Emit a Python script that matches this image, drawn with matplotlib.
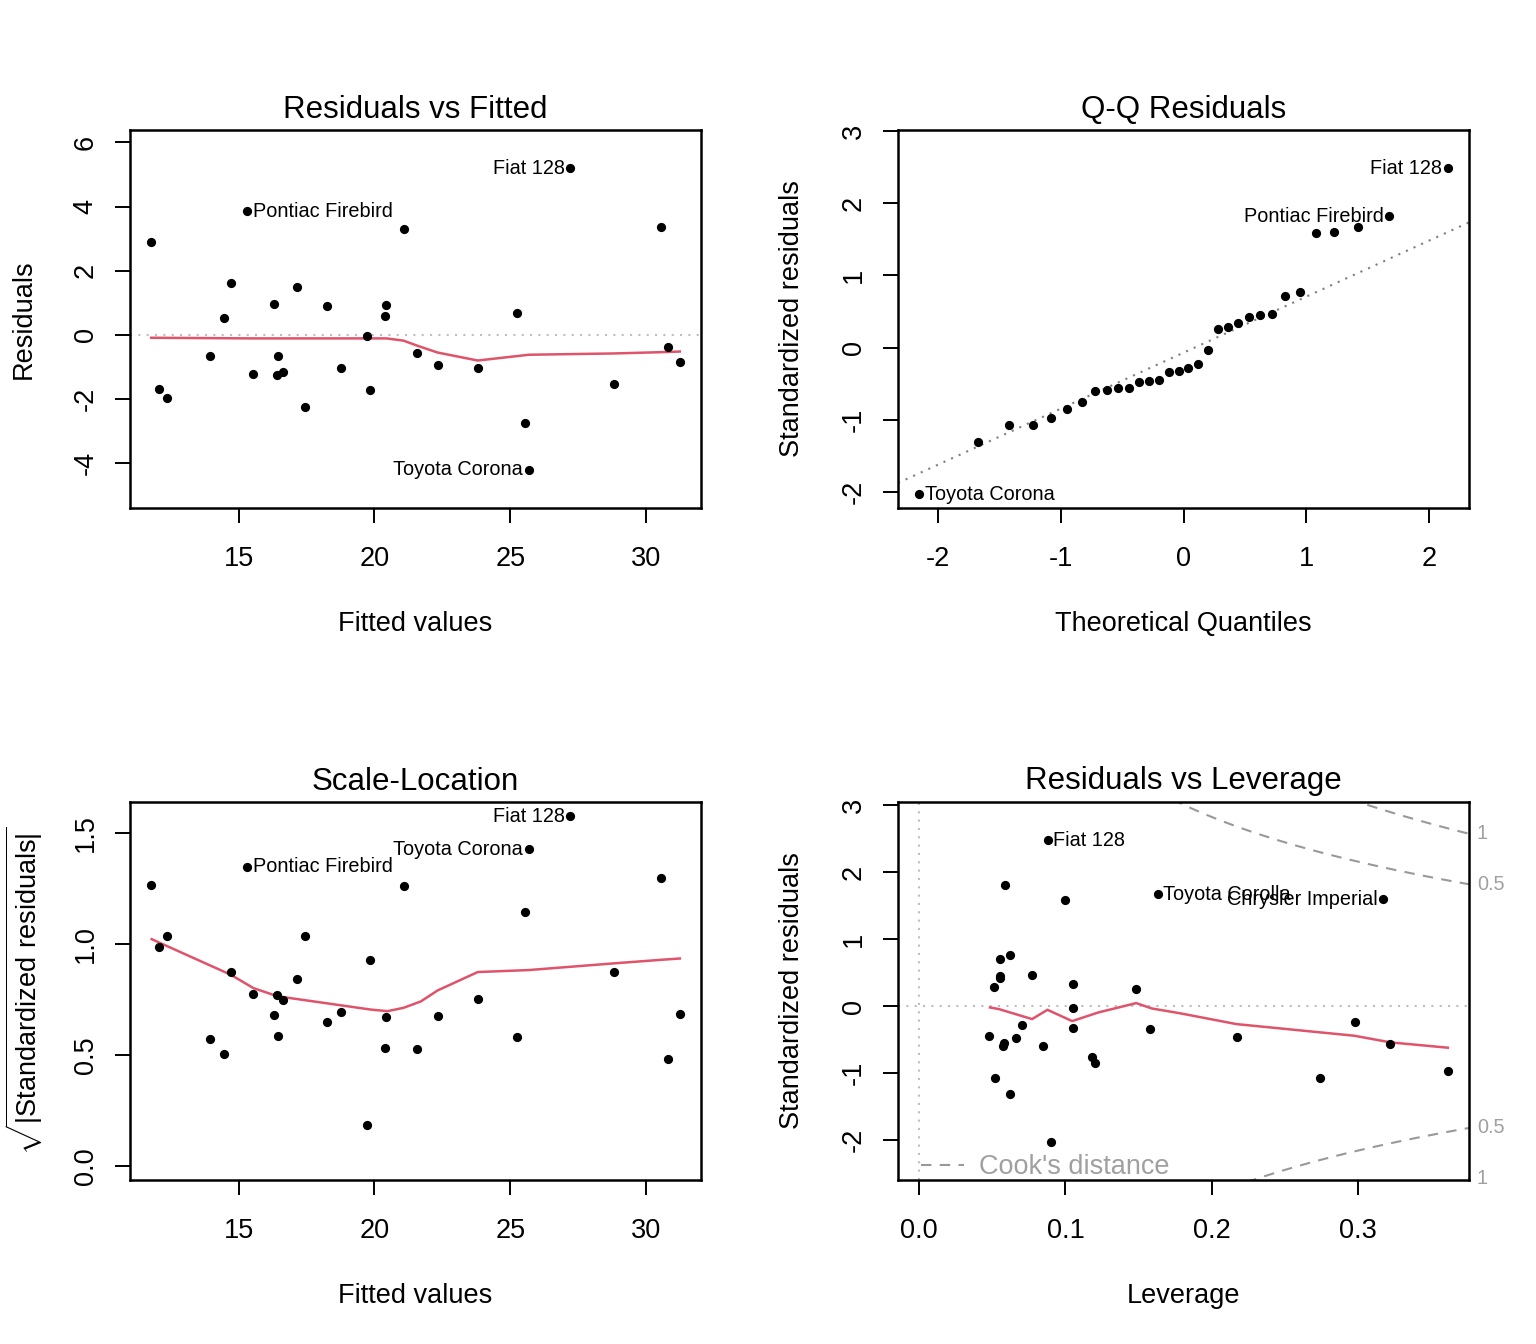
import numpy as np
import matplotlib
matplotlib.use("Agg")
import matplotlib.pyplot as plt
from matplotlib.transforms import blended_transform_factory

plt.rcParams["font.family"] = ["Liberation Sans", "DejaVu Sans"]
plt.rcParams["mathtext.fontset"] = "custom"
plt.rcParams["mathtext.rm"] = "Liberation Sans"
plt.rcParams["axes.unicode_minus"] = False

# one entry per car
fitted = [11.78, 15.32, 21.07, 14.73, 17.16, 16.32, 18.27, 20.44, 20.37, 14.47, 19.74,
          13.96, 16.46, 21.55, 18.77, 15.54, 16.41, 16.65, 12.08, 12.37, 19.82, 17.46,
          27.20, 30.54, 25.26, 22.32, 23.80, 30.80, 31.24, 28.80, 25.53, 25.68]
resid = [2.90, 3.86, 3.30, 1.62, 1.50, 0.97, 0.91, 0.94, 0.60, 0.54, -0.05,
         -0.67, -0.67, -0.58, -1.02, -1.23, -1.24, -1.17, -1.70, -1.98, -1.73, -2.26,
         5.20, 3.36, 0.69, -0.95, -1.02, -0.39, -0.86, -1.54, -2.75, -4.21]
std_resid = [1.595, 1.817, 1.593, 0.765, 0.709, 0.464, 0.422, 0.448, 0.281, 0.253, -0.034,
             -0.325, -0.342, -0.277, -0.482, -0.601, -0.593, -0.559, -0.976, -1.076, -0.857, -1.071,
             2.482, 1.676, 0.337, -0.453, -0.564, -0.233, -0.466, -0.760, -1.311, -2.030]
leverage = [0.317, 0.059, 0.100, 0.062, 0.055, 0.077, 0.055, 0.055, 0.051, 0.148, 0.105,
            0.105, 0.158, 0.070, 0.066, 0.085, 0.057, 0.058, 0.3614, 0.274, 0.120, 0.052,
            0.088, 0.163, 0.105, 0.048, 0.322, 0.298, 0.217, 0.118, 0.062, 0.090]

# labelled points (index -> car name)
id_resid = {22: "Fiat 128", 31: "Toyota Corona", 1: "Pontiac Firebird"}
id_cook = {22: "Fiat 128", 23: "Toyota Corolla", 0: "Chrysler Imperial"}

theo_half = [2.154, 1.676, 1.418, 1.230, 1.078, 0.947, 0.831, 0.725,
             0.626, 0.533, 0.445, 0.360, 0.278, 0.197, 0.118, 0.039]
theo_q = [-v for v in theo_half] + theo_half[::-1]
q75 = 0.6745

# lowess smoother lines (red)
sm1_x = [11.78, 15.5, 18.0, 20.44, 21.07, 21.55, 22.32, 23.80, 25.68, 27.20, 28.80, 30.54, 31.24]
sm1_y = [-0.09, -0.11, -0.11, -0.11, -0.18, -0.33, -0.55, -0.80, -0.62, -0.60, -0.58, -0.54, -0.52]
sm3_x = [11.80, 14.71, 15.54, 16.43, 17.29, 19.87, 20.48, 21.07, 21.71, 22.32, 23.80, 25.68, 28.80, 30.54, 31.24]
sm3_y = [1.021, 0.861, 0.801, 0.764, 0.749, 0.704, 0.697, 0.712, 0.741, 0.79, 0.873, 0.882, 0.912, 0.928, 0.934]
sm4_x = [0.0484, 0.0546, 0.0772, 0.0877, 0.1046, 0.1226, 0.1484, 0.1590, 0.1788, 0.2169, 0.2975, 0.3221, 0.3614]
sm4_y = [-0.02, -0.045, -0.194, -0.055, -0.224, -0.094, 0.045, -0.035, -0.109, -0.269, -0.443, -0.542, -0.622]

n_params = 4
cook_levels = [0.5, 1]

RED = "#DF536B"
TICK_FS = 19.5
LAB_FS = 19.5
TITLE_FS = 22.5
ID_FS = 14.3

fitted = np.array(fitted)
resid = np.array(resid)
std_resid = np.array(std_resid)
leverage = np.array(leverage)


def ext(lo, hi, f):
    d = (hi - lo) * f
    return lo - d, hi + d


def style(ax, title, xlabel, ylabel, xticks, yticks, xtl=None, ytl=None, ypad=26):
    for s in ax.spines.values():
        s.set_linewidth(1.8)
    ax.set_title(title, fontsize=TITLE_FS, pad=9)
    ax.set_xlabel(xlabel, fontsize=LAB_FS, labelpad=28)
    ax.set_ylabel(ylabel, fontsize=LAB_FS, labelpad=ypad)
    ax.set_xticks(xticks)
    ax.set_yticks(yticks)
    if xtl is not None:
        ax.set_xticklabels(xtl)
    if ytl is not None:
        ax.set_yticklabels(ytl)
    ax.tick_params(length=10.5, width=1.4, labelsize=TICK_FS)
    ax.tick_params(axis="x", pad=17)
    ax.tick_params(axis="y", pad=12)
    for t in ax.get_yticklabels():
        t.set_rotation(90)
        t.set_va("center")


def label_points(ax, xs, ys, ids):
    mid = sum(ax.get_xlim()) / 2
    for i, name in ids.items():
        right = xs[i] < mid
        ax.annotate(name, (xs[i], ys[i]), xytext=(4 if right else -4, 0),
                    textcoords="offset points", ha="left" if right else "right",
                    va="center", fontsize=ID_FS)


fig = plt.figure(figsize=(15.36, 13.44), dpi=100)
W, H = 1536, 1344
rects = [(130, 130), (898, 130), (130, 802), (898, 802)]
axs = [fig.add_axes([x / W, 1 - (y + 378) / H, 571 / W, 378 / H]) for x, y in rects]
ax1, ax2, ax3, ax4 = axs
dot = dict(s=44, color="black", zorder=3, linewidths=0)

# Residuals vs Fitted
ax1.set_xlim(*ext(fitted.min(), fitted.max(), 0.04))
lo, hi = ext(resid.min(), resid.max(), 0.08)
ax1.set_ylim(*ext(lo, hi, 0.04))
ax1.axhline(0, color="#BEBEBE", lw=1.5, ls=(0, (1, 3)))
ax1.plot(sm1_x, sm1_y, color=RED, lw=1.8)
ax1.scatter(fitted, resid, **dot)
style(ax1, "Residuals vs Fitted", "Fitted values", "Residuals", [15, 20, 25, 30], [-4, -2, 0, 2, 4, 6])
label_points(ax1, fitted, resid, id_resid)

# Q-Q Residuals
order = np.argsort(std_resid)
qq_x = np.empty(len(std_resid))
qq_x[order] = theo_q
ax2.set_xlim(*ext(min(theo_q), max(theo_q), 0.04))
ylim = [std_resid.min(), std_resid.max()]
ylim[1] += (ylim[1] - ylim[0]) * 0.075
ax2.set_ylim(*ext(ylim[0], ylim[1], 0.04))
y25, y75 = np.percentile(std_resid, [25, 75])
slope = (y75 - y25) / (2 * q75)
ax2.axline((0, y25 + slope * q75), slope=slope, color="#7F7F7F", lw=1.5, ls=(0, (1, 3)))
ax2.scatter(qq_x, std_resid, **dot)
style(ax2, "Q-Q Residuals", "Theoretical Quantiles", "Standardized residuals",
      [-2, -1, 0, 1, 2], [-2, -1, 0, 1, 2, 3])
label_points(ax2, qq_x, std_resid, id_resid)

# Scale-Location
sqrt_abs = np.sqrt(np.abs(std_resid))
ax3.set_xlim(*ext(fitted.min(), fitted.max(), 0.04))
ax3.set_ylim(*ext(0, sqrt_abs.max(), 0.04))
ax3.plot(sm3_x, sm3_y, color=RED, lw=1.8)
ax3.scatter(fitted, sqrt_abs, **dot)
style(ax3, "Scale-Location", "Fitted values", r"$\sqrt{|\mathrm{Standardized\ residuals}|}$",
      [15, 20, 25, 30], [0, 0.5, 1.0, 1.5], ytl=["0.0", "0.5", "1.0", "1.5"], ypad=20)
label_points(ax3, fitted, sqrt_abs, id_resid)

# Residuals vs Leverage
x0, x1 = ext(0, leverage.max(), 0.04)
ax4.set_xlim(x0, x1)
lo, hi = ext(std_resid.min(), std_resid.max(), 0.08)
ax4.set_ylim(*ext(lo, hi, 0.04))
ax4.axhline(0, color="#BEBEBE", lw=1.5, ls=(0, (1, 3)))
ax4.axvline(0, color="#BEBEBE", lw=1.5, ls=(0, (1, 3)))
hh = np.linspace(min(leverage.min(), leverage.max() / 100), x1, 101)
lab_tr = blended_transform_factory(ax4.transAxes, ax4.transData)
for lev in cook_levels:
    cl = np.sqrt(lev * n_params * (1 - hh) / hh)
    for sgn in (1, -1):
        ax4.plot(hh, sgn * cl, color="#999999", lw=1.5, ls=(0, (5, 4)))
        ax4.text(1.014, sgn * cl[-1], f"{lev:g}", transform=lab_tr, ha="left", va="center",
                 fontsize=ID_FS, color="#A0A0A0", clip_on=False)
ax4.plot(sm4_x, sm4_y, color=RED, lw=1.8)
ax4.scatter(leverage, std_resid, **dot)
style(ax4, "Residuals vs Leverage", "Leverage", "Standardized residuals",
      [0, 0.1, 0.2, 0.3], [-2, -1, 0, 1, 2, 3], xtl=["0.0", "0.1", "0.2", "0.3"])
label_points(ax4, leverage, std_resid, id_cook)
ax4.plot([], [], color="#999999", lw=1.5, ls=(0, (5, 4)), label="Cook's distance")
leg = ax4.legend(loc="lower left", frameon=False, fontsize=LAB_FS, handlelength=1.6,
                 borderaxespad=0.0, borderpad=0.0, handletextpad=0.55, labelcolor="#A0A0A0",
                 bbox_to_anchor=(0.04, 0.0))

fig.savefig("out.png", dpi=100)
